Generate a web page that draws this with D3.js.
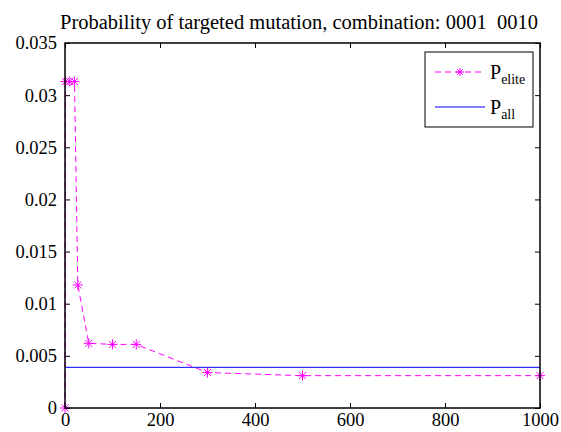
<!DOCTYPE html>
<html>
<head>
<meta charset="utf-8">
<script src="https://d3js.org/d3.v7.min.js"></script>
<style>
  body { margin: 0; background: #fff; }
  text { font-family: "Liberation Serif", "Times New Roman", serif; }
</style>
</head>
<body>
<script>
// Data
var iterations = [0, 1, 10, 20, 27, 50, 100, 150, 300, 500, 1000];
var pElite = [0, 0.0313, 0.0313, 0.0313, 0.0118, 0.0062, 0.0061, 0.0061, 0.0034, 0.0031, 0.0031];
var pAll = 0.0039;
var xTicks = [0, 200, 400, 600, 800, 1000];
var yTicks = [0, 0.005, 0.01, 0.015, 0.02, 0.025, 0.03, 0.035];
var yTickLabels = ["0", "0.005", "0.01", "0.015", "0.02", "0.025", "0.03", "0.035"];

var margin = {top: 43, right: 21, bottom: 24, left: 65},
    width = 561 - margin.left - margin.right,
    height = 432 - margin.top - margin.bottom;

var x = d3.scaleLinear().domain([0, 1000]).range([0, width]);
var y = d3.scaleLinear().domain([0, 0.035]).range([height, 0]);

var svg = d3.select("body").append("svg")
    .attr("width", 561)
    .attr("height", 432);

var g = svg.append("g")
    .attr("transform", "translate(" + margin.left + "," + margin.top + ")");

// title
svg.append("text")
    .attr("x", 299)
    .attr("y", 29)
    .attr("text-anchor", "middle")
    .style("font-size", "20.5px")
    .text("Probability of targeted mutation, combination: 0001\u00a0\u00a00010");

// axes (ticks point inwards, on all four sides)
var fontSize = "18.5px";
var xAxis = g.append("g")
    .attr("transform", "translate(0," + height + ")")
    .call(d3.axisBottom(x).tickValues(xTicks).tickFormat(d3.format("d"))
      .tickSize(-5).tickSizeOuter(0).tickPadding(5));
var yAxis = g.append("g")
    .call(d3.axisLeft(y).tickValues(yTicks).tickFormat(function(d, i) { return yTickLabels[i]; })
      .tickSize(-5).tickSizeOuter(0).tickPadding(8));
g.append("g")
    .call(d3.axisTop(x).tickValues(xTicks).tickSize(-5).tickSizeOuter(0).tickFormat(""));
g.append("g")
    .attr("transform", "translate(" + width + ",0)")
    .call(d3.axisRight(y).tickValues(yTicks).tickSize(-5).tickSizeOuter(0).tickFormat(""));

g.selectAll(".domain").remove();
g.selectAll(".tick line").attr("stroke", "#000");
g.selectAll(".tick text")
    .attr("fill", "#000")
    .style("font-family", "'Liberation Serif', serif")
    .style("font-size", fontSize);

// P_all line
g.append("line")
    .attr("x1", x(0)).attr("x2", x(1000))
    .attr("y1", y(pAll)).attr("y2", y(pAll))
    .attr("stroke", "#0000ff")
    .attr("stroke-width", 1);

// P_elite dashed line
var line = d3.line()
    .x(function(d, i) { return x(iterations[i]); })
    .y(function(d) { return y(d); });

g.append("path")
    .datum(pElite)
    .attr("d", line)
    .attr("fill", "none")
    .attr("stroke", "#ff00ff")
    .attr("stroke-width", 1)
    .attr("stroke-dasharray", "6,4");

// asterisk markers
function star(sel, r) {
  sel.append("path")
    .attr("d", "M" + (-r) + ",0H" + r + "M0," + (-r) + "V" + r +
      "M" + (-r * 0.7) + "," + (-r * 0.7) + "L" + (r * 0.7) + "," + (r * 0.7) +
      "M" + (-r * 0.7) + "," + (r * 0.7) + "L" + (r * 0.7) + "," + (-r * 0.7))
    .attr("stroke", "#ff00ff")
    .attr("stroke-width", 1)
    .attr("fill", "none");
}

g.selectAll(".marker")
    .data(pElite)
  .enter().append("g")
    .attr("class", "marker")
    .attr("transform", function(d, i) { return "translate(" + x(iterations[i]) + "," + y(d) + ")"; })
    .each(function() { star(d3.select(this), 5); });

// box
g.append("rect")
    .attr("width", width)
    .attr("height", height)
    .attr("fill", "none")
    .attr("stroke", "#000")
    .attr("stroke-width", 1.5);

// legend
var leg = svg.append("g").attr("transform", "translate(425,52)");
leg.append("rect")
    .attr("width", 108).attr("height", 75)
    .attr("fill", "#fff").attr("stroke", "#000").attr("stroke-width", 1);

leg.append("line")
    .attr("x1", 10).attr("x2", 60).attr("y1", 20).attr("y2", 20)
    .attr("stroke", "#ff00ff").attr("stroke-dasharray", "6,4");
star(leg.append("g").attr("transform", "translate(35,20)"), 4);
leg.append("line")
    .attr("x1", 10).attr("x2", 60).attr("y1", 55).attr("y2", 55)
    .attr("stroke", "#0000ff");

var t1 = leg.append("text").attr("x", 65).attr("y", 27).style("font-size", "20px");
t1.append("tspan").text("P");
t1.append("tspan").attr("dy", 5).style("font-size", "14px").text("elite");
var t2 = leg.append("text").attr("x", 65).attr("y", 62).style("font-size", "20px");
t2.append("tspan").text("P");
t2.append("tspan").attr("dy", 5).style("font-size", "14px").text("all");
</script>
</body>
</html>
